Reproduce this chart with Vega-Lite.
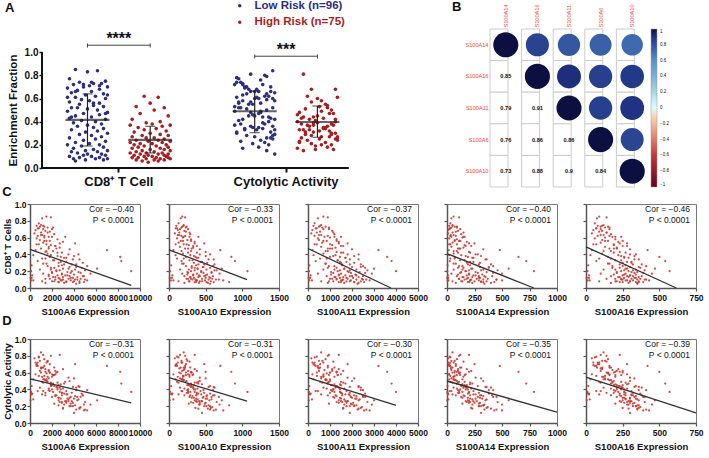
{
"$schema":"https://vega.github.io/schema/vega-lite/v6.json",
"background":"white",
"padding":{"left":1,"top":0,"right":0,"bottom":0},
"config":{
 "font":"Liberation Sans",
 "view":{"stroke":null},
 "title":{"font":"Liberation Sans","fontSize":13,"fontWeight":"bold","anchor":"start","frame":"bounds","color":"#111"},
 "axis":{"labelFont":"Liberation Sans","titleFont":"Liberation Sans","domainColor":"#555","domainWidth":1.5,"tickColor":"#555","tickWidth":1.2,"tickSize":3,"labelFontSize":8.5,"labelFontWeight":"bold","labelColor":"#111","titleFontSize":9.5,"titleFontWeight":"bold","titleColor":"#111","grid":false,"labelPadding":2,"titlePadding":5,"labelFlush":false,"labelOverlap":false,"labelBound":false},
 "legend":{"labelFont":"Liberation Sans"}
},
"datasets":{
"p":[
{"r":"L","c":0.85,"y":0.72,"j":-0.6,"s6":1500,"s10":180,"s11":700,"s14":60,"s16":90},
{"r":"L","c":0.84,"y":0.80,"j":0.5,"s6":1900,"s10":220,"s11":900,"s14":110,"s16":140},
{"r":"L","c":0.83,"y":0.66,"j":0.0,"s6":1100,"s10":160,"s11":450,"s14":40,"s16":75},
{"r":"L","c":0.77,"y":0.78,"j":-0.9,"s6":800,"s10":130,"s11":300,"s14":30,"s16":60},
{"r":"L","c":0.75,"y":0.84,"j":0.9,"s6":1000,"s10":200,"s11":600,"s14":50,"s16":120},
{"r":"L","c":0.74,"y":0.70,"j":-0.4,"s6":600,"s10":100,"s11":250,"s14":20,"s16":80},
{"r":"L","c":0.73,"y":0.76,"j":0.3,"s6":1300,"s10":240,"s11":800,"s14":90,"s16":150},
{"r":"L","c":0.73,"y":0.62,"j":0.7,"s6":900,"s10":180,"s11":500,"s14":70,"s16":100},
{"r":"L","c":0.72,"y":0.74,"j":-0.7,"s6":1600,"s10":170,"s11":650,"s14":40,"s16":130},
{"r":"L","c":0.71,"y":0.68,"j":0.1,"s6":700,"s10":90,"s11":350,"s14":30,"s16":70},
{"r":"L","c":0.70,"y":0.81,"j":-0.2,"s6":1200,"s10":150,"s11":950,"s14":120,"s16":100},
{"r":"L","c":0.70,"y":0.58,"j":1.0,"s6":2000,"s10":260,"s11":700,"s14":20,"s16":160},
{"r":"L","c":0.69,"y":0.72,"j":-1.0,"s6":500,"s10":120,"s11":200,"s14":10,"s16":50},
{"r":"L","c":0.68,"y":0.64,"j":0.6,"s6":1400,"s10":210,"s11":1100,"s14":100,"s16":110},
{"r":"L","c":0.67,"y":0.70,"j":-0.5,"s6":1800,"s10":230,"s11":550,"s14":80,"s16":90},
{"r":"L","c":0.66,"y":0.60,"j":0.2,"s6":1000,"s10":140,"s11":400,"s14":50,"s16":140},
{"r":"L","c":0.65,"y":0.77,"j":-0.8,"s6":400,"s10":80,"s11":150,"s14":10,"s16":40},
{"r":"L","c":0.64,"y":0.66,"j":0.8,"s6":2200,"s10":290,"s11":1200,"s14":130,"s16":170},
{"r":"L","c":0.63,"y":0.55,"j":-0.1,"s6":1100,"s10":120,"s11":600,"s14":60,"s16":120},
{"r":"L","c":0.62,"y":0.72,"j":0.4,"s6":700,"s10":170,"s11":300,"s14":30,"s16":80},
{"r":"L","c":0.61,"y":0.63,"j":-0.6,"s6":1700,"s10":200,"s11":750,"s14":40,"s16":180},
{"r":"L","c":0.60,"y":0.52,"j":0.9,"s6":1300,"s10":190,"s11":1000,"s14":140,"s16":130},
{"r":"L","c":0.59,"y":0.68,"j":-0.3,"s6":600,"s10":110,"s11":450,"s14":20,"s16":60},
{"r":"L","c":0.58,"y":0.61,"j":0.1,"s6":2500,"s10":300,"s11":1300,"s14":90,"s16":200},
{"r":"L","c":0.57,"y":0.74,"j":-0.9,"s6":900,"s10":250,"s11":500,"s14":70,"s16":110},
{"r":"L","c":0.56,"y":0.59,"j":0.6,"s6":1500,"s10":160,"s11":850,"s14":110,"s16":150},
{"r":"L","c":0.55,"y":0.64,"j":-0.4,"s6":3000,"s10":350,"s11":1400,"s14":180,"s16":220},
{"r":"L","c":0.54,"y":0.48,"j":0.3,"s6":1200,"s10":130,"s11":650,"s14":50,"s16":100},
{"r":"L","c":0.53,"y":0.70,"j":0.8,"s6":4100,"s10":480,"s11":1800,"s14":250,"s16":280},
{"r":"L","c":0.52,"y":0.56,"j":-0.8,"s6":800,"s10":200,"s11":400,"s14":30,"s16":70},
{"r":"L","c":0.51,"y":0.45,"j":0.0,"s6":1900,"s10":270,"s11":1100,"s14":160,"s16":190},
{"r":"L","c":0.50,"y":0.62,"j":0.5,"s6":2300,"s10":380,"s11":1600,"s14":220,"s16":250},
{"r":"L","c":0.49,"y":0.53,"j":-1.0,"s6":1700,"s10":150,"s11":600,"s14":40,"s16":130},
{"r":"L","c":0.48,"y":0.42,"j":1.0,"s6":2700,"s10":330,"s11":1250,"s14":150,"s16":210},
{"r":"L","c":0.47,"y":0.66,"j":-0.2,"s6":1000,"s10":220,"s11":900,"s14":120,"s16":160},
{"r":"L","c":0.46,"y":0.50,"j":0.6,"s6":3600,"s10":420,"s11":2000,"s14":330,"s16":300},
{"r":"L","c":0.45,"y":0.58,"j":-0.6,"s6":500,"s10":60,"s11":200,"s14":15,"s16":40},
{"r":"L","c":0.44,"y":0.47,"j":0.2,"s6":2100,"s10":300,"s11":900,"s14":90,"s16":170},
{"r":"L","c":0.43,"y":0.61,"j":-0.9,"s6":1400,"s10":500,"s11":1300,"s14":200,"s16":230},
{"r":"L","c":0.42,"y":0.36,"j":0.9,"s6":2900,"s10":260,"s11":1500,"s14":100,"s16":190},
{"r":"L","c":0.41,"y":0.55,"j":-0.3,"s6":1600,"s10":190,"s11":700,"s14":60,"s16":110},
{"r":"L","c":0.40,"y":0.44,"j":0.4,"s6":4400,"s10":560,"s11":2300,"s14":280,"s16":340},
{"r":"L","c":0.39,"y":0.52,"j":-0.7,"s6":300,"s10":90,"s11":250,"s14":20,"s16":30},
{"r":"L","c":0.38,"y":0.40,"j":0.7,"s6":2500,"s10":340,"s11":1150,"s14":170,"s16":240},
{"r":"L","c":0.37,"y":0.60,"j":0.0,"s6":1800,"s10":230,"s11":1000,"s14":70,"s16":150},
{"r":"L","c":0.36,"y":0.34,"j":-0.5,"s6":3300,"s10":380,"s11":1700,"s14":240,"s16":260},
{"r":"L","c":0.35,"y":0.49,"j":0.3,"s6":1100,"s10":110,"s11":550,"s14":30,"s16":90},
{"r":"L","c":0.34,"y":0.43,"j":0.8,"s6":3900,"s10":610,"s11":1900,"s14":360,"s16":330},
{"r":"L","c":0.33,"y":0.57,"j":-0.8,"s6":2200,"s10":280,"s11":1350,"s14":120,"s16":200},
{"r":"L","c":0.32,"y":0.38,"j":0.5,"s6":700,"s10":170,"s11":350,"s14":25,"s16":70},
{"r":"L","c":0.31,"y":0.46,"j":-0.1,"s6":2800,"s10":450,"s11":1450,"s14":210,"s16":280},
{"r":"L","c":0.30,"y":0.33,"j":1.0,"s6":4800,"s10":520,"s11":2100,"s14":300,"s16":310},
{"r":"L","c":0.29,"y":0.51,"j":-0.4,"s6":1500,"s10":200,"s11":800,"s14":80,"s16":160},
{"r":"L","c":0.28,"y":0.35,"j":0.2,"s6":3100,"s10":400,"s11":1550,"s14":190,"s16":230},
{"r":"L","c":0.27,"y":0.44,"j":0.7,"s6":150,"s10":30,"s11":60,"s14":5,"s16":15},
{"r":"L","c":0.26,"y":0.30,"j":-0.9,"s6":2600,"s10":310,"s11":1200,"s14":140,"s16":250},
{"r":"L","c":0.25,"y":0.39,"j":0.4,"s6":4200,"s10":470,"s11":2400,"s14":380,"s16":360},
{"r":"L","c":0.24,"y":0.48,"j":-0.2,"s6":1900,"s10":350,"s11":900,"s14":100,"s16":180},
{"r":"L","c":0.23,"y":0.28,"j":0.9,"s6":3500,"s10":390,"s11":1650,"s14":230,"s16":270},
{"r":"L","c":0.22,"y":0.42,"j":-0.6,"s6":900,"s10":150,"s11":700,"s14":60,"s16":120},
{"r":"L","c":0.21,"y":0.33,"j":0.1,"s6":2400,"s10":620,"s11":1900,"s14":310,"s16":320},
{"r":"L","c":0.20,"y":0.37,"j":-1.0,"s6":100,"s10":15,"s11":40,"s14":3,"s16":10},
{"r":"L","c":0.20,"y":0.26,"j":0.6,"s6":3800,"s10":440,"s11":1800,"s14":170,"s16":290},
{"r":"L","c":0.19,"y":0.45,"j":-0.3,"s6":2000,"s10":250,"s11":1050,"s14":130,"s16":210},
{"r":"L","c":0.18,"y":0.31,"j":0.8,"s6":4600,"s10":580,"s11":2600,"s14":420,"s16":390},
{"r":"L","c":0.17,"y":0.38,"j":-0.7,"s6":1200,"s10":180,"s11":450,"s14":40,"s16":100},
{"r":"L","c":0.16,"y":0.24,"j":0.3,"s6":2900,"s10":330,"s11":1400,"s14":200,"s16":260},
{"r":"L","c":0.15,"y":0.35,"j":-0.1,"s6":200,"s10":45,"s11":120,"s14":8,"s16":20},
{"r":"L","c":0.15,"y":0.29,"j":1.0,"s6":3400,"s10":500,"s11":2200,"s14":260,"s16":300},
{"r":"L","c":0.14,"y":0.41,"j":-0.8,"s6":1700,"s10":210,"s11":850,"s14":90,"s16":170},
{"r":"L","c":0.14,"y":0.22,"j":0.5,"s6":4900,"s10":420,"s11":2000,"s14":340,"s16":280},
{"r":"L","c":0.13,"y":0.33,"j":-0.5,"s6":2300,"s10":290,"s11":1250,"s14":150,"s16":230},
{"r":"L","c":0.12,"y":0.27,"j":0.0,"s6":50,"s10":10,"s11":30,"s14":2,"s16":5},
{"r":"L","c":0.12,"y":0.20,"j":0.7,"s6":3700,"s10":560,"s11":1750,"s14":290,"s16":340},
{"r":"L","c":0.11,"y":0.36,"j":-0.2,"s6":1400,"s10":240,"s11":1000,"s14":110,"s16":140},
{"r":"L","c":0.11,"y":0.25,"j":0.9,"s6":2700,"s10":300,"s11":1300,"s14":180,"s16":240},
{"r":"L","c":0.10,"y":0.31,"j":-0.9,"s6":4300,"s10":680,"s11":2500,"s14":450,"s16":400},
{"r":"L","c":0.10,"y":0.18,"j":0.2,"s6":3000,"s10":360,"s11":1600,"s14":220,"s16":250},
{"r":"L","c":0.09,"y":0.28,"j":-0.4,"s6":300,"s10":60,"s11":180,"s14":12,"s16":25},
{"r":"L","c":0.09,"y":0.15,"j":0.6,"s6":5200,"s10":740,"s11":2800,"s14":500,"s16":430},
{"r":"L","c":0.08,"y":0.23,"j":-0.7,"s6":2200,"s10":270,"s11":950,"s14":140,"s16":200},
{"r":"L","c":0.08,"y":0.34,"j":0.4,"s6":1100,"s10":130,"s11":600,"s14":50,"s16":90},
{"r":"L","c":0.08,"y":0.12,"j":1.0,"s6":4000,"s10":450,"s11":1900,"s14":310,"s16":300},
{"r":"L","c":0.07,"y":0.21,"j":-0.1,"s6":2600,"s10":820,"s11":2100,"s14":330,"s16":360},
{"r":"L","c":0.07,"y":0.26,"j":0.8,"s6":3300,"s10":370,"s11":1500,"s14":200,"s16":230},
{"r":"L","c":0.06,"y":0.17,"j":-0.6,"s6":4500,"s10":530,"s11":2300,"s14":400,"s16":350},
{"r":"L","c":0.74,"y":0.66,"j":0.2,"s6":1200,"s10":200,"s11":550,"s14":50,"s16":110},
{"r":"L","c":0.72,"y":0.57,"j":-0.2,"s6":2100,"s10":230,"s11":950,"s14":90,"s16":160},
{"r":"L","c":0.71,"y":0.79,"j":0.6,"s6":800,"s10":110,"s11":400,"s14":25,"s16":70},
{"r":"L","c":0.66,"y":0.73,"j":-0.6,"s6":1600,"s10":280,"s11":1150,"s14":150,"s16":140},
{"r":"L","c":0.63,"y":0.65,"j":1.0,"s6":1000,"s10":140,"s11":500,"s14":35,"s16":100},
{"r":"L","c":0.61,"y":0.49,"j":-1.0,"s6":3200,"s10":400,"s11":1500,"s14":160,"s16":240},
{"r":"L","c":0.56,"y":0.56,"j":0.3,"s6":1300,"s10":190,"s11":700,"s14":70,"s16":130},
{"r":"L","c":0.52,"y":0.69,"j":-0.5,"s6":600,"s10":90,"s11":300,"s14":20,"s16":50},
{"r":"L","c":0.47,"y":0.60,"j":0.9,"s6":2400,"s10":310,"s11":1000,"s14":110,"s16":190},
{"r":"L","c":0.44,"y":0.52,"j":-0.8,"s6":1500,"s10":170,"s11":800,"s14":60,"s16":120},
{"r":"H","c":0.62,"y":0.68,"j":-0.3,"s6":1300,"s10":220,"s11":900,"s14":80,"s16":160},
{"r":"H","c":0.61,"y":0.55,"j":0.4,"s6":2000,"s10":280,"s11":1200,"s14":150,"s16":200},
{"r":"H","c":0.56,"y":0.60,"j":0.0,"s6":1800,"s10":300,"s11":1300,"s14":120,"s16":250},
{"r":"H","c":0.53,"y":0.81,"j":-0.7,"s6":2700,"s10":350,"s11":1400,"s14":200,"s16":230},
{"r":"H","c":0.52,"y":0.50,"j":0.7,"s6":1500,"s10":240,"s11":1000,"s14":90,"s16":190},
{"r":"H","c":0.50,"y":0.58,"j":0.2,"s6":2300,"s10":330,"s11":1500,"s14":170,"s16":280},
{"r":"H","c":0.47,"y":0.62,"j":-0.5,"s6":1700,"s10":260,"s11":1100,"s14":100,"s16":210},
{"r":"H","c":0.45,"y":0.68,"j":0.9,"s6":7000,"s10":700,"s11":3200,"s14":480,"s16":420},
{"r":"H","c":0.42,"y":0.48,"j":-0.9,"s6":2500,"s10":380,"s11":1600,"s14":210,"s16":270},
{"r":"H","c":0.40,"y":0.54,"j":0.5,"s6":3500,"s10":420,"s11":1800,"s14":260,"s16":300},
{"r":"H","c":0.39,"y":0.44,"j":-0.2,"s6":1900,"s10":290,"s11":1250,"s14":130,"s16":220},
{"r":"H","c":0.38,"y":0.53,"j":0.1,"s6":4000,"s10":500,"s11":2100,"s14":310,"s16":330},
{"r":"H","c":0.37,"y":0.61,"j":1.0,"s6":8200,"s10":850,"s11":3600,"s14":650,"s16":500},
{"r":"H","c":0.37,"y":0.40,"j":-1.0,"s6":2800,"s10":360,"s11":1450,"s14":190,"s16":260},
{"r":"H","c":0.36,"y":0.47,"j":0.6,"s6":3100,"s10":400,"s11":1700,"s14":230,"s16":290},
{"r":"H","c":0.35,"y":0.51,"j":-0.6,"s6":1400,"s10":200,"s11":850,"s14":70,"s16":170},
{"r":"H","c":0.34,"y":0.43,"j":0.3,"s6":4500,"s10":540,"s11":2300,"s14":350,"s16":360},
{"r":"H","c":0.33,"y":0.57,"j":-0.3,"s6":2100,"s10":320,"s11":1350,"s14":160,"s16":240},
{"r":"H","c":0.32,"y":0.47,"j":0.8,"s6":8300,"s10":900,"s11":3800,"s14":720,"s16":540},
{"r":"H","c":0.31,"y":0.38,"j":-0.8,"s6":3300,"s10":430,"s11":1750,"s14":240,"s16":310},
{"r":"H","c":0.30,"y":0.45,"j":0.0,"s6":2600,"s10":340,"s11":1500,"s14":180,"s16":250},
{"r":"H","c":0.29,"y":0.52,"j":0.5,"s6":1200,"s10":180,"s11":800,"s14":60,"s16":150},
{"r":"H","c":0.28,"y":0.36,"j":-0.4,"s6":3800,"s10":480,"s11":1900,"s14":290,"s16":320},
{"r":"H","c":0.28,"y":0.42,"j":0.9,"s6":4200,"s10":620,"s11":2400,"s14":400,"s16":380},
{"r":"H","c":0.27,"y":0.33,"j":-0.9,"s6":2900,"s10":370,"s11":1550,"s14":210,"s16":270},
{"r":"H","c":0.26,"y":0.49,"j":0.2,"s6":1600,"s10":230,"s11":950,"s14":110,"s16":180},
{"r":"H","c":0.26,"y":0.39,"j":-0.2,"s6":5200,"s10":600,"s11":2500,"s14":420,"s16":410},
{"r":"H","c":0.25,"y":0.30,"j":0.7,"s6":3600,"s10":460,"s11":2000,"s14":300,"s16":300},
{"r":"H","c":0.24,"y":0.44,"j":-0.7,"s6":2200,"s10":310,"s11":1300,"s14":150,"s16":230},
{"r":"H","c":0.24,"y":0.35,"j":0.4,"s6":4700,"s10":560,"s11":2600,"s14":380,"s16":370},
{"r":"H","c":0.23,"y":0.41,"j":-0.1,"s6":3000,"s10":390,"s11":1650,"s14":220,"s16":280},
{"r":"H","c":0.23,"y":0.27,"j":1.0,"s6":6100,"s10":720,"s11":3000,"s14":560,"s16":470},
{"r":"H","c":0.22,"y":0.46,"j":-1.0,"s6":1900,"s10":270,"s11":1200,"s14":140,"s16":200},
{"r":"H","c":0.22,"y":0.32,"j":0.6,"s6":4100,"s10":510,"s11":2200,"s14":330,"s16":340},
{"r":"H","c":0.21,"y":0.37,"j":-0.5,"s6":2700,"s10":350,"s11":1450,"s14":200,"s16":260},
{"r":"H","c":0.21,"y":0.25,"j":0.1,"s6":5000,"s10":650,"s11":2700,"s14":460,"s16":400},
{"r":"H","c":0.20,"y":0.37,"j":0.8,"s6":9200,"s10":1070,"s11":4000,"s14":790,"s16":570},
{"r":"H","c":0.20,"y":0.43,"j":-0.8,"s6":2400,"s10":300,"s11":1350,"s14":170,"s16":240},
{"r":"H","c":0.19,"y":0.34,"j":0.3,"s6":3400,"s10":440,"s11":1850,"s14":260,"s16":310},
{"r":"H","c":0.19,"y":0.28,"j":-0.3,"s6":4400,"s10":580,"s11":2350,"s14":360,"s16":350},
{"r":"H","c":0.18,"y":0.40,"j":0.9,"s6":2000,"s10":260,"s11":1150,"s14":120,"s16":210},
{"r":"H","c":0.18,"y":0.31,"j":-0.6,"s6":3700,"s10":470,"s11":1950,"s14":280,"s16":330},
{"r":"H","c":0.17,"y":0.36,"j":0.5,"s6":2900,"s10":380,"s11":1500,"s14":200,"s16":270},
{"r":"H","c":0.17,"y":0.22,"j":-0.9,"s6":5500,"s10":690,"s11":2900,"s14":500,"s16":450},
{"r":"H","c":0.16,"y":0.39,"j":0.0,"s6":1700,"s10":250,"s11":1050,"s14":100,"s16":190},
{"r":"H","c":0.16,"y":0.29,"j":0.7,"s6":4000,"s10":520,"s11":2150,"s14":320,"s16":340},
{"r":"H","c":0.15,"y":0.42,"j":-0.4,"s6":2500,"s10":330,"s11":1400,"s14":180,"s16":250},
{"r":"H","c":0.15,"y":0.26,"j":1.0,"s6":3200,"s10":410,"s11":1700,"s14":240,"s16":300},
{"r":"H","c":0.14,"y":0.33,"j":-0.7,"s6":4800,"s10":600,"s11":2500,"s14":410,"s16":380},
{"r":"H","c":0.14,"y":0.20,"j":0.2,"s6":3600,"s10":480,"s11":1900,"s14":290,"s16":320},
{"r":"H","c":0.13,"y":0.37,"j":-0.2,"s6":2100,"s10":290,"s11":1200,"s14":140,"s16":220},
{"r":"H","c":0.13,"y":0.27,"j":0.6,"s6":4300,"s10":550,"s11":2300,"s14":350,"s16":360},
{"r":"H","c":0.13,"y":0.17,"j":-1.0,"s6":3000,"s10":400,"s11":1600,"s14":230,"s16":290},
{"r":"H","c":0.12,"y":0.34,"j":0.4,"s6":150,"s10":40,"s11":100,"s14":10,"s16":20},
{"r":"H","c":0.12,"y":0.24,"j":-0.5,"s6":3900,"s10":500,"s11":2050,"s14":300,"s16":330},
{"r":"H","c":0.12,"y":0.30,"j":0.9,"s6":2600,"s10":340,"s11":1450,"s14":190,"s16":260},
{"r":"H","c":0.11,"y":0.19,"j":-0.1,"s6":4600,"s10":590,"s11":2450,"s14":370,"s16":370},
{"r":"H","c":0.11,"y":0.38,"j":0.7,"s6":1800,"s10":260,"s11":1100,"s14":110,"s16":200},
{"r":"H","c":0.11,"y":0.26,"j":-0.8,"s6":3500,"s10":450,"s11":1800,"s14":270,"s16":310},
{"r":"H","c":0.10,"y":0.32,"j":0.1,"s6":2300,"s10":320,"s11":1300,"s14":160,"s16":240},
{"r":"H","c":0.10,"y":0.21,"j":-0.3,"s6":4100,"s10":540,"s11":2200,"s14":330,"s16":350},
{"r":"H","c":0.10,"y":0.16,"j":0.8,"s6":5000,"s10":640,"s11":2650,"s14":450,"s16":410},
{"r":"H","c":0.09,"y":0.29,"j":-0.6,"s6":2800,"s10":370,"s11":1500,"s14":210,"s16":270},
{"r":"H","c":0.09,"y":0.35,"j":0.3,"s6":100,"s10":25,"s11":60,"s14":6,"s16":12},
{"r":"H","c":0.09,"y":0.23,"j":-0.9,"s6":3700,"s10":490,"s11":1950,"s14":290,"s16":320},
{"r":"H","c":0.08,"y":0.18,"j":0.5,"s6":4500,"s10":570,"s11":2400,"s14":360,"s16":360},
{"r":"H","c":0.08,"y":0.31,"j":-0.2,"s6":2000,"s10":280,"s11":1150,"s14":130,"s16":210},
{"r":"H","c":0.08,"y":0.24,"j":1.0,"s6":3300,"s10":420,"s11":1750,"s14":250,"s16":300},
{"r":"H","c":0.07,"y":0.15,"j":-0.7,"s6":4900,"s10":610,"s11":2550,"s14":430,"s16":390},
{"r":"H","c":0.07,"y":0.27,"j":0.2,"s6":2600,"s10":350,"s11":1400,"s14":190,"s16":250},
{"r":"H","c":0.07,"y":0.20,"j":0.7,"s6":3900,"s10":510,"s11":2100,"s14":310,"s16":340},
{"r":"H","c":0.06,"y":0.33,"j":-0.4,"s6":1400,"s10":210,"s11":900,"s14":80,"s16":170},
{"r":"H","c":0.06,"y":0.22,"j":0.4,"s6":3100,"s10":410,"s11":1650,"s14":230,"s16":290},
{"r":"H","c":0.05,"y":0.16,"j":-0.1,"s6":4200,"s10":560,"s11":2250,"s14":340,"s16":350},
{"r":"H","c":0.09,"y":0.25,"j":0.9,"s6":2900,"s10":380,"s11":1550,"s14":210,"s16":280}
],
"s":[
{"x":"L","m":0.415,"lo":0.19,"hi":0.64},
{"x":"H","m":0.242,"lo":0.13,"hi":0.36},
{"x":"YL","m":0.49,"lo":0.305,"hi":0.665},
{"x":"YH","m":0.397,"lo":0.265,"hi":0.535}
],
"b":[
{"a":"L","e":"H","mid":"M1","y":1.06,"y1":1.04,"y2":1.075,"st":"****"},
{"a":"YL","e":"YH","mid":"M2","y":0.965,"y1":0.945,"y2":0.98,"st":"***"}
],
"cm":[
{"rw":"S100A14","cl":"S100A14","v":1,"t":"u"},
{"rw":"S100A14","cl":"S100A16","v":0.85,"t":"u"},
{"rw":"S100A14","cl":"S100A11","v":0.79,"t":"u"},
{"rw":"S100A14","cl":"S100A6","v":0.76,"t":"u"},
{"rw":"S100A14","cl":"S100A10","v":0.73,"t":"u"},
{"rw":"S100A16","cl":"S100A14","v":0.85,"t":"l"},
{"rw":"S100A16","cl":"S100A16","v":1,"t":"u"},
{"rw":"S100A16","cl":"S100A11","v":0.91,"t":"u"},
{"rw":"S100A16","cl":"S100A6","v":0.86,"t":"u"},
{"rw":"S100A16","cl":"S100A10","v":0.88,"t":"u"},
{"rw":"S100A11","cl":"S100A14","v":0.79,"t":"l"},
{"rw":"S100A11","cl":"S100A16","v":0.91,"t":"l"},
{"rw":"S100A11","cl":"S100A11","v":1,"t":"u"},
{"rw":"S100A11","cl":"S100A6","v":0.86,"t":"u"},
{"rw":"S100A11","cl":"S100A10","v":0.9,"t":"u"},
{"rw":"S100A6","cl":"S100A14","v":0.76,"t":"l"},
{"rw":"S100A6","cl":"S100A16","v":0.86,"t":"l"},
{"rw":"S100A6","cl":"S100A11","v":0.86,"t":"l"},
{"rw":"S100A6","cl":"S100A6","v":1,"t":"u"},
{"rw":"S100A6","cl":"S100A10","v":0.84,"t":"u"},
{"rw":"S100A10","cl":"S100A14","v":0.73,"t":"l"},
{"rw":"S100A10","cl":"S100A16","v":0.88,"t":"l"},
{"rw":"S100A10","cl":"S100A11","v":0.9,"t":"l"},
{"rw":"S100A10","cl":"S100A6","v":0.84,"t":"l"},
{"rw":"S100A10","cl":"S100A10","v":1,"t":"u"}
]
},
"vconcat":[
{
 "hconcat":[
  {
   "width":324,"height":139,
   "title":{"text":"A","offset":-15,"dx":-2},
   "data":{"name":"p"},
   "layer":[
    {"mark":{"type":"circle","size":13,"opacity":1},
     "encoding":{
      "x":{"field":"r","type":"nominal","scale":{"domain":["x0","x1","x2","x3","x4","L","x6","x7","M1","x9","x10","H","x12","x13","x14","x15","x16","x17","x18","x19","x20","YL","x22","x23","M2","x25","x26","YH","x28","x29","x30"],"paddingInner":0,"paddingOuter":0},"axis":{"values":["M1","M2"],"tickCount":40,"labelExpr":"datum.value=='M1' ? 'CD8⁺ T Cell' : 'Cytolytic Activity'","title":null,"labelAngle":0,"labelFontSize":13,"labelFontWeight":"bold","labelColor":"#111","labelPadding":3,"domain":false,"tickColor":"#111","tickWidth":2,"tickSize":4,"labelOverlap":false}},
      "xOffset":{"field":"j","type":"quantitative","scale":{"domain":[-0.2612,0.2612]}},
      "y":{"field":"c","type":"quantitative","scale":{"domain":[0,1.2],"nice":false},"axis":{"values":[0,0.2,0.4,0.6,0.8,1],"tickCount":20,"format":".1f","title":"Enrichment Fraction","titleY":81,"offset":-12,"domain":false,"titleFontSize":11.5,"titleFontWeight":"bold","titlePadding":6,"labelFontSize":10,"labelFontWeight":"bold","labelPadding":1,"tickColor":"#111","tickWidth":1.5,"tickSize":3,"labelOverlap":false}},
      "color":{"field":"r","type":"nominal","scale":{"domain":["L","H"],"range":["#2c2e80","#a81e1e"]},"legend":{"orient":"none","legendX":204,"legendY":-29,"title":null,"direction":"vertical","labelExpr":"datum.value=='L' ? 'Low Risk (n=96)' : 'High Risk (n=75)'","labelFontSize":11.5,"labelFontWeight":"bold","labelColor":{"expr":"datum.value=='L' ? '#2c2e80' : '#a81e1e'"},"symbolType":"circle","symbolSize":12,"rowPadding":3.5,"labelOffset":9}}
     }},
    {"transform":[{"lookup":"r","from":{"data":{"values":[{"r":"L","q":"YL"},{"r":"H","q":"YH"}]},"key":"r","fields":["q"]}}],
     "mark":{"type":"circle","size":13,"opacity":1},
     "encoding":{
      "x":{"field":"q","type":"nominal"},
      "xOffset":{"field":"j","type":"quantitative"},
      "y":{"field":"y","type":"quantitative"},
      "color":{"field":"r","type":"nominal"}
     }},
    {"data":{"name":"s"},"mark":{"type":"rule","color":"#222","strokeWidth":1.2},
     "encoding":{"x":{"field":"x","type":"nominal"},"y":{"field":"lo","type":"quantitative"},"y2":{"field":"hi"}}},
    {"data":{"name":"s"},"mark":{"type":"tick","color":"#222","thickness":1.2,"size":10},
     "encoding":{"x":{"field":"x","type":"nominal"},"y":{"field":"lo","type":"quantitative"}}},
    {"data":{"name":"s"},"mark":{"type":"tick","color":"#222","thickness":1.2,"size":10},
     "encoding":{"x":{"field":"x","type":"nominal"},"y":{"field":"hi","type":"quantitative"}}},
    {"data":{"name":"s"},"mark":{"type":"tick","color":"#222","thickness":2.2,"size":44},
     "encoding":{"x":{"field":"x","type":"nominal"},"y":{"field":"m","type":"quantitative"}}},
    {"data":{"name":"b"},"mark":{"type":"rule","color":"#444","strokeWidth":1},
     "encoding":{"x":{"field":"a","type":"nominal"},"x2":{"field":"e"},"y":{"field":"y","type":"quantitative"}}},
    {"data":{"name":"b"},"mark":{"type":"rule","color":"#444","strokeWidth":1},
     "encoding":{"x":{"field":"a","type":"nominal"},"y":{"field":"y1","type":"quantitative"},"y2":{"field":"y2"}}},
    {"data":{"name":"b"},"mark":{"type":"rule","color":"#444","strokeWidth":1},
     "encoding":{"x":{"field":"e","type":"nominal"},"y":{"field":"y1","type":"quantitative"},"y2":{"field":"y2"}}},
    {"data":{"name":"b"},"mark":{"type":"text","fontSize":16,"fontWeight":"bold","color":"#111","baseline":"alphabetic","dy":-1},
     "encoding":{"x":{"field":"mid","type":"nominal"},"y":{"field":"y","type":"quantitative"},"text":{"field":"st"}}},
    {"data":{"values":[{"k":0}]},"mark":{"type":"rule","color":"#111","strokeWidth":2},
     "encoding":{"x":{"datum":"x1","type":"nominal","bandPosition":0.148},"y":{"datum":0,"type":"quantitative"},"y2":{"datum":1}}},
    {"data":{"values":[{"k":0}]},"mark":{"type":"rule","color":"#111","strokeWidth":2},
     "encoding":{"x":{"datum":"x1","type":"nominal","bandPosition":0.148},"x2":{"datum":"x30"},"y":{"datum":0,"type":"quantitative"}}}
   ]
  },
  {
   "width":158,"height":158,
   "title":{"text":"B","offset":-10,"dx":-13},
   "data":{"name":"cm"},
   "layer":[
    {"mark":{"type":"rect","fill":"white","stroke":"#cccccc","strokeWidth":1},
     "encoding":{
      "x":{"field":"cl","type":"nominal","scale":{"domain":["S100A14","S100A16","S100A11","S100A6","S100A10"],"paddingInner":0,"paddingOuter":0},"axis":{"orient":"top","labelAngle":-90,"labelAlign":"left","labelBaseline":"middle","domain":false,"ticks":false,"title":null,"labelColor":"#f04a34","labelFontSize":5.6,"labelFontWeight":"normal","labelPadding":2}},
      "y":{"field":"rw","type":"nominal","scale":{"domain":["S100A14","S100A16","S100A11","S100A6","S100A10"],"paddingInner":0,"paddingOuter":0},"axis":{"domain":false,"ticks":false,"title":null,"labelColor":"#f04a34","labelFontSize":5.6,"labelFontWeight":"normal","labelPadding":2}}
     }},
    {"transform":[{"filter":"datum.t=='u'"}],"mark":{"type":"circle","opacity":1},
     "encoding":{
      "x":{"field":"cl","type":"nominal"},
      "y":{"field":"rw","type":"nominal"},
      "size":{"field":"v","type":"quantitative","scale":{"domain":[0,1],"range":[0,630]},"legend":null},
      "color":{"field":"v","type":"quantitative","scale":{"domain":[-1,-0.6,-0.2,0,0.2,0.6,0.75,0.9,1],"range":["#67001f","#c2373a","#f3b8a0","#ffffff","#a9d4e6","#5b8fc6","#3c64ab","#1f3382","#0b1040"]},
       "legend":{"title":null,"orient":"right","offset":3,"gradientLength":158,"gradientThickness":6,"labelFontSize":4.5,"labelColor":"#111","values":[-1,-0.8,-0.6,-0.4,-0.2,0,0.2,0.4,0.6,0.8,1],"format":"~g","labelOverlap":false,"labelOffset":3,"gradientStrokeColor":"#999","gradientStrokeWidth":0.5}}
     }},
    {"transform":[{"filter":"datum.t=='l'"}],"mark":{"type":"text","fontSize":5.6,"fontWeight":"bold","color":"#111"},
     "encoding":{"x":{"field":"cl","type":"nominal"},"y":{"field":"rw","type":"nominal"},"text":{"field":"v","type":"nominal"}}}
   ]
  }
 ],
 "spacing":97,
 "resolve":{"scale":{"color":"independent","size":"independent"},"legend":{"color":"independent","size":"independent"}}
},
{
 "hconcat":[
  {"width":110,"height":84,"view":{"stroke":"#777","strokeWidth":1},"title":{"text":"C","offset":1},
   "layer":[
    {"data":{"name":"p"},"mark":{"type":"circle","size":5,"color":"#c93a32","opacity":0.9},
     "encoding":{"x":{"field":"s6","type":"quantitative","scale":{"domain":[0,10000],"nice":false},"axis":{"values":[0,2000,4000,6000,8000,10000],"tickCount":20,"format":"d","labelOverlap":false,"title":"S100A6 Expression"}},
                 "y":{"field":"c","type":"quantitative","scale":{"domain":[0,1],"nice":false},"axis":{"values":[0,0.2,0.4,0.6,0.8,1],"tickCount":20,"format":".1f","labelOverlap":false,"labelPadding":1,"titlePadding":2,"title":"CD8⁺ T Cells"}}}},
    {"data":{"values":[{"x":0,"y":0.46},{"x":9200,"y":0.03}]},"mark":{"type":"line","color":"#333","strokeWidth":1.3},
     "encoding":{"x":{"field":"x","type":"quantitative"},"y":{"field":"y","type":"quantitative"}}},
    {"data":{"values":[{"t":["Cor = −0.40","P < 0.0001"]}]},"mark":{"type":"text","align":"right","baseline":"top","dx":-6,"dy":1,"fontSize":8.5,"lineHeight":11,"color":"#111"},
     "encoding":{"x":{"datum":10000},"y":{"datum":1},"text":{"field":"t"}}}
   ]},
  {"width":110,"height":84,"view":{"stroke":"#777","strokeWidth":1},
   "layer":[
    {"data":{"name":"p"},"mark":{"type":"circle","size":5,"color":"#c93a32","opacity":0.9},
     "encoding":{"x":{"field":"s10","type":"quantitative","scale":{"domain":[0,1500],"nice":false},"axis":{"values":[0,500,1000,1500],"tickCount":20,"format":"d","labelOverlap":false,"title":"S100A10 Expression"}},
                 "y":{"field":"c","type":"quantitative","scale":{"domain":[0,1],"nice":false},"axis":{"values":[0,0.2,0.4,0.6,0.8,1],"tickCount":20,"labels":false,"title":null}}}},
    {"data":{"values":[{"x":0,"y":0.455},{"x":1064,"y":0.1}]},"mark":{"type":"line","color":"#333","strokeWidth":1.3},
     "encoding":{"x":{"field":"x","type":"quantitative"},"y":{"field":"y","type":"quantitative"}}},
    {"data":{"values":[{"t":["Cor = −0.33","P < 0.0001"]}]},"mark":{"type":"text","align":"right","baseline":"top","dx":-6,"dy":1,"fontSize":8.5,"lineHeight":11,"color":"#111"},
     "encoding":{"x":{"datum":1500},"y":{"datum":1},"text":{"field":"t"}}}
   ]},
  {"width":110,"height":84,"view":{"stroke":"#777","strokeWidth":1},
   "layer":[
    {"data":{"name":"p"},"mark":{"type":"circle","size":5,"color":"#c93a32","opacity":0.9},
     "encoding":{"x":{"field":"s11","type":"quantitative","scale":{"domain":[0,5000],"nice":false},"axis":{"values":[0,1000,2000,3000,4000,5000],"tickCount":20,"format":"d","labelOverlap":false,"title":"S100A11 Expression"}},
                 "y":{"field":"c","type":"quantitative","scale":{"domain":[0,1],"nice":false},"axis":{"values":[0,0.2,0.4,0.6,0.8,1],"tickCount":20,"labels":false,"title":null}}}},
    {"data":{"values":[{"x":0,"y":0.47},{"x":3770,"y":0.0}]},"mark":{"type":"line","color":"#333","strokeWidth":1.3},
     "encoding":{"x":{"field":"x","type":"quantitative"},"y":{"field":"y","type":"quantitative"}}},
    {"data":{"values":[{"t":["Cor = −0.37","P < 0.0001"]}]},"mark":{"type":"text","align":"right","baseline":"top","dx":-6,"dy":1,"fontSize":8.5,"lineHeight":11,"color":"#111"},
     "encoding":{"x":{"datum":5000},"y":{"datum":1},"text":{"field":"t"}}}
   ]},
  {"width":110,"height":84,"view":{"stroke":"#777","strokeWidth":1},
   "layer":[
    {"data":{"name":"p"},"mark":{"type":"circle","size":5,"color":"#c93a32","opacity":0.9},
     "encoding":{"x":{"field":"s14","type":"quantitative","scale":{"domain":[0,1000],"nice":false},"axis":{"values":[0,250,500,750,1000],"tickCount":20,"format":"d","labelOverlap":false,"title":"S100A14 Expression"}},
                 "y":{"field":"c","type":"quantitative","scale":{"domain":[0,1],"nice":false},"axis":{"values":[0,0.2,0.4,0.6,0.8,1],"tickCount":20,"labels":false,"title":null}}}},
    {"data":{"values":[{"x":0,"y":0.41},{"x":790,"y":0.0}]},"mark":{"type":"line","color":"#333","strokeWidth":1.3},
     "encoding":{"x":{"field":"x","type":"quantitative"},"y":{"field":"y","type":"quantitative"}}},
    {"data":{"values":[{"t":["Cor = −0.40","P < 0.0001"]}]},"mark":{"type":"text","align":"right","baseline":"top","dx":-6,"dy":1,"fontSize":8.5,"lineHeight":11,"color":"#111"},
     "encoding":{"x":{"datum":1000},"y":{"datum":1},"text":{"field":"t"}}}
   ]},
  {"width":110,"height":84,"view":{"stroke":"#777","strokeWidth":1},
   "layer":[
    {"data":{"name":"p"},"mark":{"type":"circle","size":5,"color":"#c93a32","opacity":0.9},
     "encoding":{"x":{"field":"s16","type":"quantitative","scale":{"domain":[0,750],"nice":false},"axis":{"values":[0,250,500,750],"tickCount":20,"format":"d","labelOverlap":false,"title":"S100A16 Expression"}},
                 "y":{"field":"c","type":"quantitative","scale":{"domain":[0,1],"nice":false},"axis":{"values":[0,0.2,0.4,0.6,0.8,1],"tickCount":20,"labels":false,"title":null}}}},
    {"data":{"values":[{"x":0,"y":0.49},{"x":616,"y":0.0}]},"mark":{"type":"line","color":"#333","strokeWidth":1.3},
     "encoding":{"x":{"field":"x","type":"quantitative"},"y":{"field":"y","type":"quantitative"}}},
    {"data":{"values":[{"t":["Cor = −0.46","P < 0.0001"]}]},"mark":{"type":"text","align":"right","baseline":"top","dx":-6,"dy":1,"fontSize":8.5,"lineHeight":11,"color":"#111"},
     "encoding":{"x":{"datum":750},"y":{"datum":1},"text":{"field":"t"}}}
   ]}
 ],
 "spacing":29,
 "bounds":"flush"
},
{
 "hconcat":[
  {"width":110,"height":84,"view":{"stroke":"#777","strokeWidth":1},"title":{"text":"D","offset":7},
   "layer":[
    {"data":{"name":"p"},"mark":{"type":"circle","size":5,"color":"#c93a32","opacity":0.9},
     "encoding":{"x":{"field":"s6","type":"quantitative","scale":{"domain":[0,10000],"nice":false},"axis":{"values":[0,2000,4000,6000,8000,10000],"tickCount":20,"format":"d","labelOverlap":false,"title":"S100A6 Expression"}},
                 "y":{"field":"y","type":"quantitative","scale":{"domain":[0,1],"nice":false},"axis":{"values":[0,0.2,0.4,0.6,0.8,1],"tickCount":20,"format":".1f","labelOverlap":false,"labelPadding":1,"titlePadding":2,"title":"Cytolytic Activity"}}}},
    {"data":{"values":[{"x":0,"y":0.525},{"x":9200,"y":0.24}]},"mark":{"type":"line","color":"#333","strokeWidth":1.3},
     "encoding":{"x":{"field":"x","type":"quantitative"},"y":{"field":"y","type":"quantitative"}}},
    {"data":{"values":[{"t":["Cor = −0.31","P < 0.0001"]}]},"mark":{"type":"text","align":"right","baseline":"top","dx":-6,"dy":1,"fontSize":8.5,"lineHeight":11,"color":"#111"},
     "encoding":{"x":{"datum":10000},"y":{"datum":1},"text":{"field":"t"}}}
   ]},
  {"width":110,"height":84,"view":{"stroke":"#777","strokeWidth":1},
   "layer":[
    {"data":{"name":"p"},"mark":{"type":"circle","size":5,"color":"#c93a32","opacity":0.9},
     "encoding":{"x":{"field":"s10","type":"quantitative","scale":{"domain":[0,1500],"nice":false},"axis":{"values":[0,500,1000,1500],"tickCount":20,"format":"d","labelOverlap":false,"title":"S100A10 Expression"}},
                 "y":{"field":"y","type":"quantitative","scale":{"domain":[0,1],"nice":false},"axis":{"values":[0,0.2,0.4,0.6,0.8,1],"tickCount":20,"labels":false,"title":null}}}},
    {"data":{"values":[{"x":0,"y":0.54},{"x":1064,"y":0.26}]},"mark":{"type":"line","color":"#333","strokeWidth":1.3},
     "encoding":{"x":{"field":"x","type":"quantitative"},"y":{"field":"y","type":"quantitative"}}},
    {"data":{"values":[{"t":["Cor = −0.31","P < 0.0001"]}]},"mark":{"type":"text","align":"right","baseline":"top","dx":-6,"dy":1,"fontSize":8.5,"lineHeight":11,"color":"#111"},
     "encoding":{"x":{"datum":1500},"y":{"datum":1},"text":{"field":"t"}}}
   ]},
  {"width":110,"height":84,"view":{"stroke":"#777","strokeWidth":1},
   "layer":[
    {"data":{"name":"p"},"mark":{"type":"circle","size":5,"color":"#c93a32","opacity":0.9},
     "encoding":{"x":{"field":"s11","type":"quantitative","scale":{"domain":[0,5000],"nice":false},"axis":{"values":[0,1000,2000,3000,4000,5000],"tickCount":20,"format":"d","labelOverlap":false,"title":"S100A11 Expression"}},
                 "y":{"field":"y","type":"quantitative","scale":{"domain":[0,1],"nice":false},"axis":{"values":[0,0.2,0.4,0.6,0.8,1],"tickCount":20,"labels":false,"title":null}}}},
    {"data":{"values":[{"x":0,"y":0.54},{"x":4000,"y":0.21}]},"mark":{"type":"line","color":"#333","strokeWidth":1.3},
     "encoding":{"x":{"field":"x","type":"quantitative"},"y":{"field":"y","type":"quantitative"}}},
    {"data":{"values":[{"t":["Cor = −0.30","P < 0.0001"]}]},"mark":{"type":"text","align":"right","baseline":"top","dx":-6,"dy":1,"fontSize":8.5,"lineHeight":11,"color":"#111"},
     "encoding":{"x":{"datum":5000},"y":{"datum":1},"text":{"field":"t"}}}
   ]},
  {"width":110,"height":84,"view":{"stroke":"#777","strokeWidth":1},
   "layer":[
    {"data":{"name":"p"},"mark":{"type":"circle","size":5,"color":"#c93a32","opacity":0.9},
     "encoding":{"x":{"field":"s14","type":"quantitative","scale":{"domain":[0,1000],"nice":false},"axis":{"values":[0,250,500,750,1000],"tickCount":20,"format":"d","labelOverlap":false,"title":"S100A14 Expression"}},
                 "y":{"field":"y","type":"quantitative","scale":{"domain":[0,1],"nice":false},"axis":{"values":[0,0.2,0.4,0.6,0.8,1],"tickCount":20,"labels":false,"title":null}}}},
    {"data":{"values":[{"x":0,"y":0.5},{"x":1000,"y":0.13}]},"mark":{"type":"line","color":"#333","strokeWidth":1.3},
     "encoding":{"x":{"field":"x","type":"quantitative"},"y":{"field":"y","type":"quantitative"}}},
    {"data":{"values":[{"t":["Cor = −0.35","P < 0.0001"]}]},"mark":{"type":"text","align":"right","baseline":"top","dx":-6,"dy":1,"fontSize":8.5,"lineHeight":11,"color":"#111"},
     "encoding":{"x":{"datum":1000},"y":{"datum":1},"text":{"field":"t"}}}
   ]},
  {"width":110,"height":84,"view":{"stroke":"#777","strokeWidth":1},
   "layer":[
    {"data":{"name":"p"},"mark":{"type":"circle","size":5,"color":"#c93a32","opacity":0.9},
     "encoding":{"x":{"field":"s16","type":"quantitative","scale":{"domain":[0,750],"nice":false},"axis":{"values":[0,250,500,750],"tickCount":20,"format":"d","labelOverlap":false,"title":"S100A16 Expression"}},
                 "y":{"field":"y","type":"quantitative","scale":{"domain":[0,1],"nice":false},"axis":{"values":[0,0.2,0.4,0.6,0.8,1],"tickCount":20,"labels":false,"title":null}}}},
    {"data":{"values":[{"x":0,"y":0.545},{"x":750,"y":0.12}]},"mark":{"type":"line","color":"#333","strokeWidth":1.3},
     "encoding":{"x":{"field":"x","type":"quantitative"},"y":{"field":"y","type":"quantitative"}}},
    {"data":{"values":[{"t":["Cor = −0.39","P < 0.0001"]}]},"mark":{"type":"text","align":"right","baseline":"top","dx":-6,"dy":1,"fontSize":8.5,"lineHeight":11,"color":"#111"},
     "encoding":{"x":{"datum":750},"y":{"datum":1},"text":{"field":"t"}}}
   ]}
 ],
 "spacing":29,
 "bounds":"flush"
}
],
"spacing":-3
}
